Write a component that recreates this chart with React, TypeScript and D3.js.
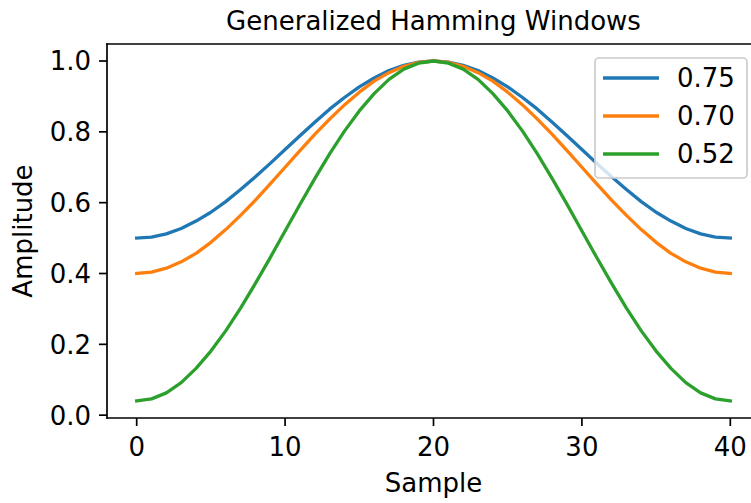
import React from "react";
import * as d3 from "d3";

const samples: number[] = [
  0, 1, 2, 3, 4, 5, 6, 7, 8, 9, 10, 11, 12, 13, 14, 15, 16, 17, 18, 19, 20,
  21, 22, 23, 24, 25, 26, 27, 28, 29, 30, 31, 32, 33, 34, 35, 36, 37, 38, 39, 40,
];

const alpha075: number[] = [
  0.5, 0.503, 0.512, 0.527, 0.548, 0.573, 0.603, 0.637, 0.673, 0.711, 0.75,
  0.789, 0.827, 0.864, 0.897, 0.927, 0.952, 0.973, 0.988, 0.997, 1.0,
  0.997, 0.988, 0.973, 0.952, 0.927, 0.897, 0.864, 0.827, 0.789, 0.75,
  0.711, 0.673, 0.637, 0.603, 0.573, 0.548, 0.527, 0.512, 0.503, 0.5,
];

const alpha070: number[] = [
  0.4, 0.404, 0.415, 0.433, 0.457, 0.488, 0.524, 0.564, 0.607, 0.653, 0.7,
  0.747, 0.793, 0.836, 0.876, 0.912, 0.943, 0.967, 0.985, 0.996, 1.0,
  0.996, 0.985, 0.967, 0.943, 0.912, 0.876, 0.836, 0.793, 0.747, 0.7,
  0.653, 0.607, 0.564, 0.524, 0.488, 0.457, 0.433, 0.415, 0.404, 0.4,
];

const alpha052: number[] = [
  0.04, 0.046, 0.063, 0.092, 0.132, 0.181, 0.238, 0.302, 0.372, 0.445, 0.52,
  0.595, 0.668, 0.738, 0.802, 0.859, 0.908, 0.948, 0.977, 0.994, 1.0,
  0.994, 0.977, 0.948, 0.908, 0.859, 0.802, 0.738, 0.668, 0.595, 0.52,
  0.445, 0.372, 0.302, 0.238, 0.181, 0.132, 0.092, 0.063, 0.046, 0.04,
];

const seriesLabels: string[] = ["0.75", "0.70", "0.52"];
const seriesColors: string[] = ["#1f77b4", "#ff7f0e", "#2ca02c"];
const xTicks: number[] = [0, 10, 20, 30, 40];
const yTicks: number[] = [0.0, 0.2, 0.4, 0.6, 0.8, 1.0];

const FONT = "'DejaVu Sans', sans-serif";

export default function App() {
  const W = 751;
  const H = 503;
  const left = 107;
  const right = 760;
  const top = 44;
  const bottom = 418;

  const x = d3.scaleLinear().domain([-2, 42]).range([left, right]);
  const y = d3.scaleLinear().domain([-0.008, 1.048]).range([bottom, top]);

  const allSeries = [alpha075, alpha070, alpha052];
  const line = d3
    .line<number>()
    .x((_, i) => x(samples[i]))
    .y((d) => y(d));

  const fs = 26;

  return (
    <svg
      width={W}
      height={H}
      style={{ position: "absolute", left: 0, top: 0, background: "#fff" }}
      fontFamily={FONT}
    >
      <rect x={0} y={0} width={W} height={H} fill="#fff" />
      {/* lines */}
      {allSeries.map((s, k) => (
        <path
          key={k}
          d={line(s) || ""}
          fill="none"
          stroke={seriesColors[k]}
          strokeWidth={3.3}
          strokeLinejoin="round"
          strokeLinecap="square"
        />
      ))}
      {/* spines */}
      <line x1={left} x2={left} y1={top} y2={bottom} stroke="#000" strokeWidth={1.7} strokeLinecap="square" />
      <line x1={left} x2={right} y1={bottom} y2={bottom} stroke="#000" strokeWidth={1.7} strokeLinecap="square" />
      <line x1={left} x2={right} y1={top} y2={top} stroke="#000" strokeWidth={1.7} strokeLinecap="square" />
      <line x1={right} x2={right} y1={top} y2={bottom} stroke="#000" strokeWidth={1.7} />
      {/* x ticks */}
      {xTicks.map((t) => (
        <g key={"x" + t}>
          <line x1={x(t)} x2={x(t)} y1={bottom} y2={bottom + 8} stroke="#000" strokeWidth={1.7} />
          <text x={x(t)} y={456} textAnchor="middle" fontSize={fs} fill="#000">
            {String(t)}
          </text>
        </g>
      ))}
      {/* y ticks */}
      {yTicks.map((t) => (
        <g key={"y" + t}>
          <line x1={left - 8} x2={left} y1={y(t)} y2={y(t)} stroke="#000" strokeWidth={1.7} />
          <text x={91} y={y(t)} dy="0.36em" textAnchor="end" fontSize={fs} fill="#000">
            {t.toFixed(1)}
          </text>
        </g>
      ))}
      {/* labels */}
      <text x={(left + right) / 2} y={492} textAnchor="middle" fontSize={fs} fill="#000">
        Sample
      </text>
      <text
        transform={`translate(32, ${(top + bottom) / 2}) rotate(-90)`}
        textAnchor="middle"
        fontSize={fs}
        fill="#000"
      >
        Amplitude
      </text>
      <text x={(left + right) / 2} y={30} textAnchor="middle" fontSize={fs} fill="#000">
        Generalized Hamming Windows
      </text>
      {/* legend */}
      <rect
        x={595}
        y={58}
        width={152}
        height={120}
        rx={4}
        ry={4}
        fill="#fff"
        fillOpacity={0.8}
        stroke="#ccc"
        strokeWidth={1.7}
      />
      {seriesLabels.map((lab, k) => {
        const ly = 78 + k * 38;
        return (
          <g key={"lg" + k}>
            <line x1={603} x2={659} y1={ly} y2={ly} stroke={seriesColors[k]} strokeWidth={3.3} />
            <text x={677} y={ly} dy="0.36em" fontSize={fs} fill="#000">
              {lab}
            </text>
          </g>
        );
      })}
    </svg>
  );
}
